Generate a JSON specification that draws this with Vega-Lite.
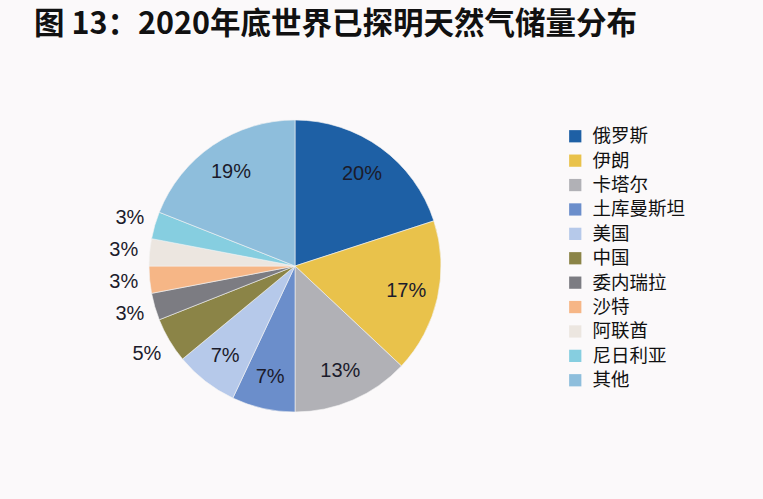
{
  "$schema": "https://vega.github.io/schema/vega-lite/v6.json",
  "width": 292,
  "height": 292,
  "autosize": {"type": "none"},
  "padding": {"left": 149, "top": 120, "right": 322, "bottom": 87},
  "background": "#fbf9fa",
  "title": {
    "text": "图 13：2020年底世界已探明天然气储量分布",
    "anchor": "start",
    "frame": "group",
    "dx": -115,
    "offset": 73,
    "fontSize": 30.5,
    "font": "Noto Sans CJK SC",
    "fontWeight": "bold",
    "color": "#111111"
  },
  "config": {"view": {"stroke": null}},
  "data": {
    "values": [
      {"rank": 1, "country": "俄罗斯", "value": 20, "label": "20%"},
      {"rank": 2, "country": "伊朗", "value": 17, "label": "17%"},
      {"rank": 3, "country": "卡塔尔", "value": 13, "label": "13%"},
      {"rank": 4, "country": "土库曼斯坦", "value": 7, "label": "7%"},
      {"rank": 5, "country": "美国", "value": 7, "label": "7%"},
      {"rank": 6, "country": "中国", "value": 5, "label": "5%"},
      {"rank": 7, "country": "委内瑞拉", "value": 3, "label": "3%"},
      {"rank": 8, "country": "沙特", "value": 3, "label": "3%"},
      {"rank": 9, "country": "阿联酋", "value": 3, "label": "3%"},
      {"rank": 10, "country": "尼日利亚", "value": 3, "label": "3%"},
      {"rank": 11, "country": "其他", "value": 19, "label": "19%"}
    ]
  },
  "encoding": {
    "theta": {"field": "value", "type": "quantitative", "stack": true},
    "order": {"field": "rank", "type": "quantitative"}
  },
  "layer": [
    {
      "mark": {"type": "arc", "outerRadius": 146, "stroke": "#f4f4f4", "strokeWidth": 0.6},
      "encoding": {
        "color": {
          "field": "country",
          "type": "nominal",
          "scale": {
            "domain": ["俄罗斯", "伊朗", "卡塔尔", "土库曼斯坦", "美国", "中国", "委内瑞拉", "沙特", "阿联酋", "尼日利亚", "其他"],
            "range": ["#1e60a5", "#e9c24b", "#b1b1b6", "#6b8ecb", "#b6c9ea", "#8b8447", "#7c7c82", "#f6b686", "#ece6e0", "#86cee0", "#8ebedc"]
          },
          "legend": {
            "title": null,
            "orient": "right",
            "offset": 118,
            "padding": 7,
            "symbolType": "square",
            "symbolSize": 150,
            "symbolStrokeWidth": 0,
            "labelFont": "Noto Sans CJK SC",
            "labelFontSize": 18.5,
            "labelColor": "#111111",
            "labelOffset": 8,
            "rowPadding": 5.4
          }
        }
      }
    },
    {
      "mark": {"type": "text", "radius": 114, "font": "Liberation Sans", "fontSize": 20, "color": "#1b1b2b"},
      "encoding": {
        "text": {"condition": {"test": "datum.value >= 7", "field": "label"}, "value": ""}
      }
    },
    {
      "mark": {"type": "text", "radius": 172, "font": "Liberation Sans", "fontSize": 20, "color": "#1b1b2b"},
      "encoding": {
        "text": {"condition": {"test": "datum.value < 7", "field": "label"}, "value": ""}
      }
    }
  ]
}
